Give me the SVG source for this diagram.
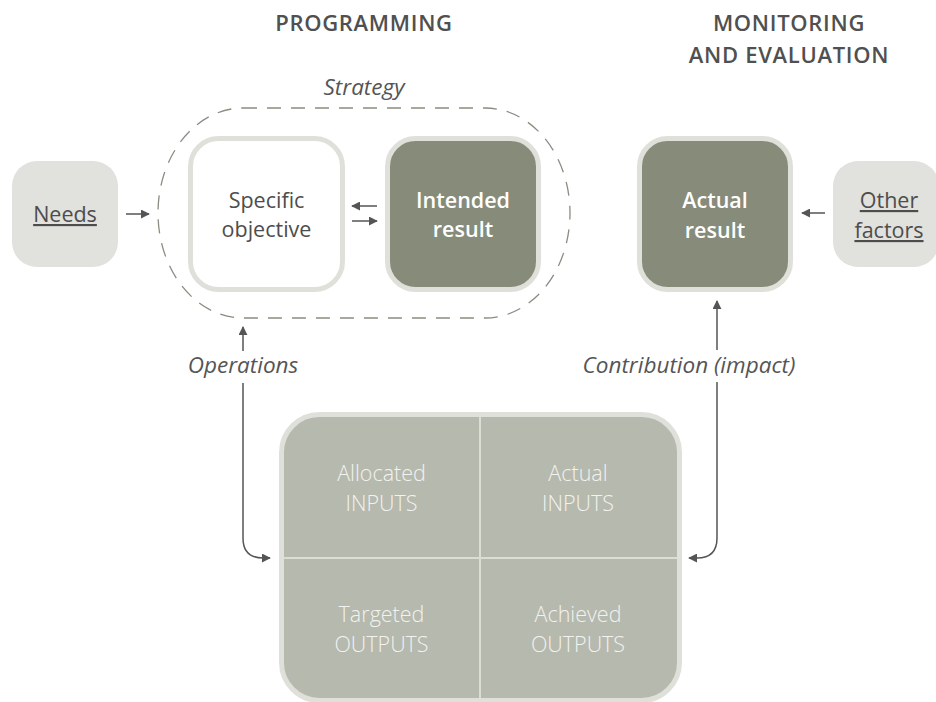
<svg xmlns="http://www.w3.org/2000/svg" width="936" height="702" viewBox="0 0 936 702">
<defs>
<style>
.t{font-family:"Open Sans","Noto Sans","Liberation Sans",sans-serif;font-size:21.5px;text-anchor:middle}
.title{font-weight:600;fill:#505050;font-size:22px;letter-spacing:0.7px}
.dark{fill:#4d4d4d}
.white{fill:#ffffff;font-weight:600}
.light{fill:#f2f2ee;font-weight:300}
.it{font-style:italic;fill:#555;font-size:22.5px}
.u{text-decoration:underline}
.conn{stroke:#555;stroke-width:1.5;fill:none}
</style>
<marker id="ah" viewBox="0 0 10 10" refX="9" refY="5" markerWidth="9" markerHeight="9" markerUnits="userSpaceOnUse" orient="auto">
<path d="M0,0 L10,5 L0,10 Z" fill="#555"/>
</marker>
</defs>
<rect width="936" height="702" fill="#ffffff"/>

<g id="titles">
<text class="t title" x="364" y="31">PROGRAMMING</text>
<text class="t title" x="789" y="31">MONITORING</text>
<text class="t title" x="789" y="63">AND EVALUATION</text>
</g>

<g id="strategy">
<path d="M243,108 H485 A85,105 0 0 1 485,318 H243 A85,105 0 0 1 243,108 Z" fill="none" stroke="#8a8d80" stroke-width="1.3" stroke-dasharray="14,10"/>
<text class="t it" x="364" y="95">Strategy</text>
</g>

<g id="needs">
<rect x="12" y="161" width="106" height="106" rx="25" fill="#e1e1dd"/>
<text class="t dark u" x="65" y="222">Needs</text>
</g>

<g id="specific-objective">
<rect x="190.5" y="138.5" width="152" height="151" rx="28" fill="#ffffff" stroke="#e0e0db" stroke-width="5"/>
<text class="t dark" x="266.5" y="208">Specific</text>
<text class="t dark" x="266.5" y="237">objective</text>
</g>

<g id="intended-result">
<rect x="387.5" y="138.5" width="151" height="151" rx="28" fill="#878b79" stroke="#e0e0db" stroke-width="5"/>
<text class="t white" x="463" y="208">Intended</text>
<text class="t white" x="463" y="237">result</text>
</g>

<g id="actual-result">
<rect x="639.5" y="138.5" width="151" height="151" rx="28" fill="#878b79" stroke="#e0e0db" stroke-width="5"/>
<text class="t white" x="715" y="208">Actual</text>
<text class="t white" x="715" y="238">result</text>
</g>

<g id="other-factors">
<rect x="833" y="161" width="106" height="106" rx="25" fill="#e1e1dd"/>
<text class="t dark u" x="889" y="208">Other</text>
<text class="t dark u" x="889" y="238">factors</text>
</g>

<g id="inputs-outputs">
<rect x="281.5" y="414.5" width="398" height="286" rx="38" fill="#b6b9ae" stroke="#e0e0db" stroke-width="5"/>
<line x1="480" y1="417" x2="480" y2="698" stroke="#dcddd5" stroke-width="2"/>
<line x1="284" y1="558" x2="677" y2="558" stroke="#dcddd5" stroke-width="2"/>
<text class="t light" x="381.5" y="481">Allocated</text>
<text class="t light" x="381.5" y="511">INPUTS</text>
<text class="t light" x="578" y="481">Actual</text>
<text class="t light" x="578" y="511">INPUTS</text>
<text class="t light" x="381.5" y="622">Targeted</text>
<text class="t light" x="381.5" y="652">OUTPUTS</text>
<text class="t light" x="578" y="622">Achieved</text>
<text class="t light" x="578" y="652">OUTPUTS</text>
</g>

<g id="labels">
<text class="t it" x="243" y="373">Operations</text>
<text class="t it" x="689" y="373">Contribution (impact)</text>
</g>

<g id="connectors">
<line class="conn" x1="126" y1="214" x2="149" y2="214" marker-end="url(#ah)"/>
<line class="conn" x1="377" y1="206" x2="352" y2="206" marker-end="url(#ah)"/>
<line class="conn" x1="352" y1="221" x2="377" y2="221" marker-end="url(#ah)"/>
<line class="conn" x1="825" y1="213" x2="802" y2="213" marker-end="url(#ah)"/>
<line class="conn" x1="243" y1="351" x2="243" y2="327" marker-end="url(#ah)"/>
<path class="conn" d="M243,383 V538 Q243,558 263,558 H270" marker-end="url(#ah)"/>
<line class="conn" x1="717" y1="350" x2="717" y2="301" marker-end="url(#ah)"/>
<path class="conn" d="M717,382 V538 Q717,558 697,558 H689" marker-end="url(#ah)"/>
</g>
</svg>
